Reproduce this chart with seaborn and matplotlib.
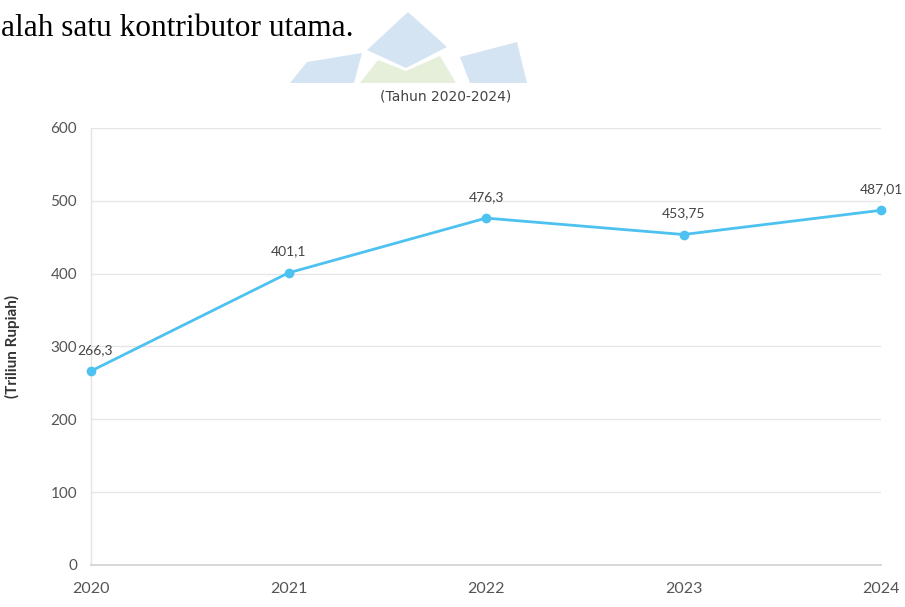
import matplotlib.pyplot as plt
import seaborn as sns
import pandas as pd
from matplotlib.patches import Polygon

# data
years = [2020, 2021, 2022, 2023, 2024]
values = [266.3, 401.1, 476.3, 453.75, 487.01]
value_labels = ["266,3", "401,1", "476,3", "453,75", "487,01"]
y_ticks = [0, 100, 200, 300, 400, 500, 600]

df = pd.DataFrame({"tahun": years, "nilai": values})

W, H = 905, 607
sns.set_theme(style="whitegrid")
plt.rcParams["font.family"] = ["Lato", "DejaVu Sans"]

fig = plt.figure(figsize=(W / 100, H / 100), dpi=100)
fig.patch.set_facecolor("white")


def px(x, y):
    # pixel position -> figure fraction
    return (x / W, 1 - y / H)


# faint logo watermark behind the chart (cut off by the chart box)
blue = "#d4e4f3"
green = "#e5efd9"
shapes = [
    ([(307, 62), (362, 53), (354, 83), (290, 83)], blue),
    ([(408, 12), (447, 47), (406, 68), (367, 50)], blue),
    ([(460, 57), (517, 42), (527, 83), (470, 83)], blue),
    ([(360, 83), (378, 60), (406, 71), (440, 56), (456, 83)], green),
]
for pts, col in shapes:
    fig.add_artist(Polygon([px(*p) for p in pts], closed=True, facecolor=col,
                           edgecolor="none", transform=fig.transFigure, zorder=0))

# piece of the surrounding document text
fig.text(*px(1, 36), "alah satu kontributor utama.", family=["Liberation Serif"],
         fontsize=22.6, color="black", ha="left", va="baseline")

# chart
ax = fig.add_axes([91 / W, 1 - 565 / H, (881 - 91) / W, (565 - 128) / H])
ax.set_facecolor("white")
sns.lineplot(data=df, x="tahun", y="nilai", ax=ax, color="#4dc2f0", linewidth=2,
             marker="o", markersize=7, markeredgewidth=0, zorder=3, clip_on=False)

label_dx = [3, 0, 0, 0, 0]
for x, y, lab, dx in zip(years, values, value_labels, label_dx):
    ax.annotate(lab, (x, y), xytext=(dx, 11), textcoords="offset points",
                ha="center", va="bottom", fontsize=10, color="#444444")

ax.set_xlim(years[0], years[-1])
ax.set_ylim(0, 600)
ax.set_xticks(years)
ax.set_yticks(y_ticks)
ax.set_xlabel("")
ax.set_ylabel("(Triliun Rupiah)", fontsize=11, fontweight="bold", color="#333333", va="center")
ax.yaxis.set_label_coords(-0.099, 0.5)
ax.grid(axis="y", color="#e6e6e6", linewidth=1)
ax.grid(axis="x", visible=False)

for side in ["top", "right"]:
    ax.spines[side].set_visible(False)
ax.spines["left"].set_color("#e4e4e4")
ax.spines["bottom"].set_color("#d4d4d4")
ax.spines["left"].set_linewidth(1)
ax.spines["bottom"].set_linewidth(1.3)

ax.tick_params(axis="y", length=6, width=0.8, color="#dddddd", pad=4,
               labelsize=11, labelcolor="#555555")
ax.tick_params(axis="x", length=0, pad=12, labelsize=11.5, labelcolor="#555555")

fig.text(*px(446, 96), "(Tahun 2020-2024)", family=["DejaVu Sans"], fontsize=10,
         color="#444444", ha="center", va="center")

fig.savefig("out.png", dpi=100, facecolor="white")
